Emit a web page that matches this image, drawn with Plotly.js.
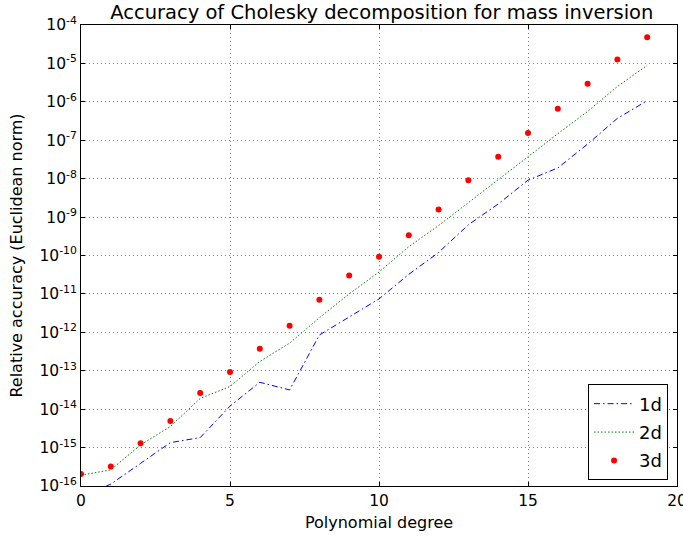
<!DOCTYPE html>
<html>
<head>
<meta charset="utf-8">
<script src="https://cdn.plot.ly/plotly-3.0.1.min.js"></script>
<style>html,body{margin:0;padding:0;background:#fff;}#chart{width:683px;height:538px;}</style>
</head>
<body>
<div id="chart"></div>
<script>
// Polynomial degree
var degrees = [0,1,2,3,4,5,6,7,8,9,10,11,12,13,14,15,16,17,18,19];
// log10 of relative accuracy
var log1d = [-16.3,-15.95,-15.41,-14.87,-14.74,-13.92,-13.30,-13.50,-12.07,-11.60,-11.13,-10.49,-9.92,-9.20,-8.66,-8.04,-7.72,-7.10,-6.43,-5.97];
var log2d = [-15.72,-15.58,-14.93,-14.45,-13.72,-13.41,-12.76,-12.28,-11.62,-11.00,-10.43,-9.77,-9.22,-8.63,-8.02,-7.43,-6.83,-6.25,-5.60,-5.05];
var log3d = [-15.69,-15.49,-14.89,-14.31,-13.58,-13.03,-12.43,-11.83,-11.15,-10.52,-10.03,-9.47,-8.80,-8.04,-7.43,-6.81,-6.18,-5.53,-4.90,-4.32];
var seriesNames = ['1d','2d','3d'];
var yTickExp = [-16,-15,-14,-13,-12,-11,-10,-9,-8,-7,-6,-5,-4];
var xTicks = [0,5,10,15,20];

function pow10(a){ return a.map(function(v){ return Math.pow(10, v); }); }
var yTickVals = pow10(yTickExp);
var yTickText = yTickExp.map(function(e){ return '10<sup>' + e + '</sup>'; });

var font = 'DejaVu Sans, sans-serif';

var traces = [
  {x: degrees, y: pow10(log1d), name: seriesNames[0], legendgroup: 'a', mode: 'lines', type: 'scatter',
   line: {color: '#0000ff', width: 1, dash: '6px,3px,1.5px,3px'}},
  {x: degrees, y: pow10(log2d), name: seriesNames[1], legendgroup: 'b', mode: 'lines', type: 'scatter',
   line: {color: '#008000', width: 1, dash: '1.5px,2px'}},
  {x: degrees, y: pow10(log3d), name: seriesNames[2], legendgroup: 'c', mode: 'markers', type: 'scatter',
   marker: {color: '#ff0000', size: 6}}
];

var gridCol = 'rgba(0,0,0,0.5)';
var layout = {
  width: 683, height: 538,
  margin: {l: 81, r: 6, t: 25, b: 52},
  paper_bgcolor: '#ffffff', plot_bgcolor: '#ffffff',
  font: {family: font, color: '#000', size: 15},
  title: {text: 'Accuracy of Cholesky decomposition for mass inversion',
          font: {family: font, size: 19.5, color: '#000'},
          x: 0.559, xanchor: 'center', xref: 'container', y: 0.977, yref: 'container', yanchor: 'middle'},
  xaxis: {
    range: [0, 20], tickvals: xTicks, ticktext: xTicks.map(String),
    ticks: 'inside', ticklen: 4, tickcolor: '#000', mirror: 'ticks',
    showline: true, linecolor: '#000', linewidth: 1,
    showgrid: true, gridcolor: gridCol, griddash: '1px,3px', gridwidth: 1,
    zeroline: false, ticklabeloverflow: 'allow',
    tickfont: {family: font, size: 15.5, color: '#000'},
    title: {text: 'Polynomial degree', font: {family: font, size: 16, color: '#000'}, standoff: 8}
  },
  yaxis: {
    type: 'log', range: [-16, -4], tickvals: yTickVals, ticktext: yTickText,
    ticks: 'inside', ticklen: 4, tickcolor: '#000', mirror: 'ticks',
    showline: true, linecolor: '#000', linewidth: 1,
    showgrid: true, gridcolor: gridCol, griddash: '1px,3px', gridwidth: 1,
    zeroline: false, ticklabeloverflow: 'allow',
    tickfont: {family: font, size: 15.5, color: '#000'},
    title: {text: 'Relative accuracy (Euclidean norm)', font: {family: font, size: 16, color: '#000'}, standoff: 12}
  },
  legend: {
    x: 0.985, y: 0.012, xanchor: 'right', yanchor: 'bottom',
    bordercolor: '#000', borderwidth: 1, bgcolor: '#fff',
    font: {family: font, size: 18, color: '#000'},
    traceorder: 'grouped', tracegroupgap: 2, itemwidth: 40
  },
  showlegend: true
};

Plotly.newPlot('chart', traces, layout, {staticPlot: true, displayModeBar: false});
</script>
</body>
</html>
